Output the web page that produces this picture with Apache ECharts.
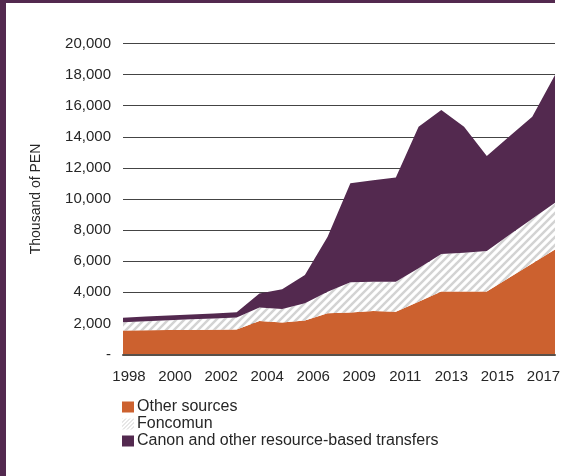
<!DOCTYPE html>
<html>
<head>
<meta charset="utf-8">
<script src="https://cdn.jsdelivr.net/npm/echarts@6/dist/echarts.min.js"></script>
<style>
  html, body { margin: 0; padding: 0; background: #ffffff; }
  #chart { width: 566px; height: 476px; }
</style>
</head>
<body>
<div id="chart"></div>
<script>
// Municipal revenue by source, thousand of PEN
const years = ['1998','1999','2000','2001','2002','2003','2004','2005','2006','2007',
               '2008','2009','2010','2011','2012','2013','2014','2015','2016','2017'];
const yearLabels = ['1998','2000','2002','2004','2006','2009','2011','2013','2015','2017'];

const otherSources = [1550,1560,1570,1580,1590,1600,2150,2050,2180,2650,
                      2700,2800,2750,3400,4050,4050,4050,4950,5850,6750];
const foncomun     = [530,580,630,680,730,780,880,880,1110,1390,
                      1950,1880,1930,2140,2410,2500,2600,2750,2880,3010];
const canon        = [290,300,310,320,320,330,900,1260,1820,3540,
                      6360,6520,6710,9110,9260,8100,6110,6330,6560,8210];

const seriesNames = ['Other sources', 'Foncomun', 'Canon and other resource-based transfers'];

const ORANGE = '#cc612f';
const PURPLE = '#53294f';
const FONT = 'Liberation Sans, Arial, sans-serif';
const TEXT = '#262626';

// diagonal hatch tile for the Foncomun band
function hatch(size, width, color) {
  const c = document.createElement('canvas');
  c.width = size; c.height = size;
  const g = c.getContext('2d');
  g.fillStyle = '#ffffff';
  g.fillRect(0, 0, size, size);
  g.strokeStyle = color;
  g.lineWidth = width;
  g.lineCap = 'square';
  [-size, 0, size].forEach((dx) => {
    g.beginPath();
    g.moveTo(dx, size);
    g.lineTo(dx + size, 0);
    g.stroke();
  });
  return c;
}
const hatchFill = { image: hatch(8, 2.5, '#d3d3d3'), repeat: 'repeat' };
const hatchIcon = { image: hatch(4, 1, '#cfcfcf'), repeat: 'repeat' };

function fmt(v) {
  return v === 0 ? '-' : v.toLocaleString('en-US');
}

const chart = echarts.init(document.getElementById('chart'), null, { renderer: 'canvas' });

function areaSeries(name, data, fill) {
  return {
    name: name,
    type: 'line',
    stack: 'total',
    data: data,
    xAxisIndex: 0,
    yAxisIndex: 0,
    showSymbol: false,
    symbol: 'none',
    lineStyle: { width: 0, opacity: 0 },
    itemStyle: { color: fill },
    areaStyle: { color: fill, opacity: 1 },
    emphasis: { disabled: true },
    animation: false
  };
}

chart.setOption({
  backgroundColor: '#ffffff',
  animation: false,
  textStyle: { fontFamily: FONT },
  graphic: [
    { type: 'rect', left: 0, top: 0, shape: { width: 6, height: 476 }, style: { fill: PURPLE }, z: 100 },
    { type: 'rect', left: 0, top: 0, shape: { width: 555, height: 3 }, style: { fill: PURPLE }, z: 100 }
  ],
  grid: [
    { left: 123, right: 11, top: 43.5, bottom: 121.5 },
    { left: 129, right: 22.5, top: 43.5, bottom: 121.5 }
  ],
  legend: {
    orient: 'vertical',
    left: 122,
    top: 399,
    padding: 0,
    itemGap: 1,
    itemWidth: 12,
    itemHeight: 11,
    selectedMode: false,
    textStyle: { fontSize: 16, color: TEXT, fontFamily: FONT, padding: [0, 0, 0, -2] },
    data: [
      { name: seriesNames[0], icon: 'rect', itemStyle: { color: ORANGE } },
      { name: seriesNames[1], icon: 'rect', itemStyle: { color: hatchIcon } },
      { name: seriesNames[2], icon: 'rect', itemStyle: { color: PURPLE } }
    ]
  },
  xAxis: [
    {
      type: 'category',
      gridIndex: 0,
      data: years,
      boundaryGap: false,
      axisLine: { show: true, lineStyle: { color: '#58504a', width: 2 } },
      axisTick: { show: false },
      axisLabel: { show: false },
      splitLine: { show: false },
      z: 5
    },
    {
      type: 'category',
      gridIndex: 1,
      data: yearLabels,
      boundaryGap: false,
      axisLine: { show: false },
      axisTick: { show: false },
      axisLabel: { show: true, interval: 0, margin: 15, fontSize: 15, color: TEXT, fontFamily: FONT },
      splitLine: { show: false }
    }
  ],
  yAxis: [
    {
      type: 'value',
      gridIndex: 0,
      min: 0,
      max: 20000,
      interval: 2000,
      name: 'Thousand of PEN',
      nameLocation: 'middle',
      nameRotate: 90,
      nameGap: 80,
      nameTextStyle: { fontSize: 14, color: TEXT, fontFamily: FONT },
      axisLine: { show: false },
      axisTick: { show: false },
      axisLabel: { margin: 12, fontSize: 15, color: TEXT, fontFamily: FONT, formatter: fmt },
      splitLine: { show: true, lineStyle: { color: '#444444', width: 1 } }
    },
    {
      type: 'value',
      gridIndex: 1,
      min: 0,
      max: 1,
      show: false
    }
  ],
  series: [
    areaSeries(seriesNames[0], otherSources, ORANGE),
    areaSeries(seriesNames[1], foncomun, hatchFill),
    areaSeries(seriesNames[2], canon, PURPLE)
  ]
});
</script>
</body>
</html>
